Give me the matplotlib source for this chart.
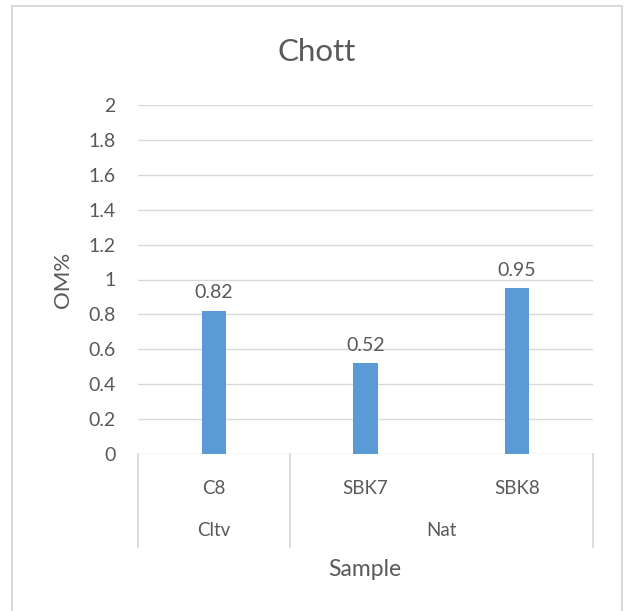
import matplotlib
matplotlib.use("Agg")
import matplotlib.pyplot as plt
from matplotlib.patches import Rectangle
from matplotlib.transforms import blended_transform_factory

# Data
samples = ["C8", "SBK7", "SBK8"]
groups = ["Cltv", "Nat"]
group_sizes = [1, 2]
om_values = [0.82, 0.52, 0.95]
y_ticks = [0, 0.2, 0.4, 0.6, 0.8, 1, 1.2, 1.4, 1.6, 1.8, 2]
y_tick_labels = ["0", "0.2", "0.4", "0.6", "0.8", "1", "1.2", "1.4", "1.6", "1.8", "2"]

W, H = 629, 611
BAR = "#5B9BD5"
GRID = "#D9D9D9"
TXT = "#595959"
plt.rcParams["font.family"] = ["Lato", "DejaVu Sans"]

fig = plt.figure(figsize=(W / 100, H / 100), dpi=100)

def fx(px):
    return px / W

def fy(py):
    return 1 - py / H

# Plot area in pixel coordinates
left, right, top, bottom = 138, 593, 105, 454
ax = fig.add_axes([fx(left), fy(bottom), fx(right - left), (bottom - top) / H])

x = list(range(len(samples)))
ax.bar(x, om_values, width=0.16, color=BAR, zorder=3)
ax.set_xlim(-0.5, len(samples) - 0.5)
ax.set_ylim(0, 2)
ax.set_yticks(y_ticks)
ax.set_yticklabels(y_tick_labels)
ax.tick_params(axis="y", length=0, pad=16, labelsize=14, labelcolor=TXT)
ax.set_xticks([])
for s in ax.spines.values():
    s.set_visible(False)
for t in y_ticks:
    ax.axhline(t, color=GRID, lw=1.0, zorder=1)

# Value labels above bars
for xi, v in zip(x, om_values):
    ax.annotate(f"{v:g}", (xi, v), xytext=(0, 7), textcoords="offset points",
                ha="center", va="bottom", fontsize=14, color=TXT)

# Two-level category axis
trans = blended_transform_factory(ax.transData, ax.transAxes)
axis_bottom = -(547 - bottom) / (bottom - top)
edges = [-0.5]
for n in group_sizes:
    edges.append(edges[-1] + n)
for e in edges:
    ax.plot([e, e], [0, axis_bottom], transform=trans, color=GRID, lw=1.3,
            clip_on=False, zorder=2)

row1 = -(489 - bottom) / (bottom - top)
row2 = -(531 - bottom) / (bottom - top)
for xi, name in zip(x, samples):
    ax.text(xi, row1, name, transform=trans, ha="center", va="center",
            fontsize=13.5, color=TXT)
for i, g in enumerate(groups):
    c = (edges[i] + edges[i + 1]) / 2
    ax.text(c, row2, g, transform=trans, ha="center", va="center",
            fontsize=13.5, color=TXT)

# Titles
fig.text(fx(317), fy(52), "Chott", ha="center", va="center", fontsize=22.5, color=TXT)
fig.text(fx(365), fy(569), "Sample", ha="center", va="center", fontsize=16.5, color=TXT)
fig.text(fx(63), fy(280), "OM%", ha="center", va="center", rotation=90,
         fontsize=16, color=TXT)

# Chart border
fig.patches.append(Rectangle((fx(12), fy(H + 5)), fx(622 - 12), (H + 5 - 6) / H,
                             transform=fig.transFigure, fill=False,
                             edgecolor=GRID, lw=1.4))

fig.savefig("out.png", dpi=100, facecolor="white")
